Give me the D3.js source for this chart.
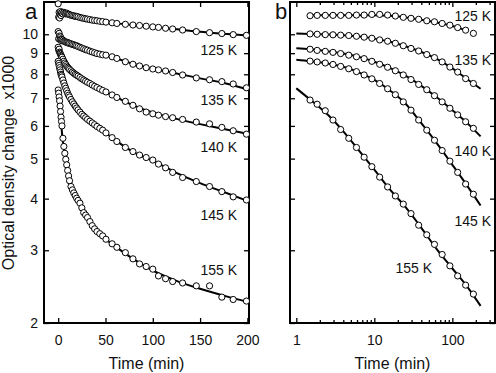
<!DOCTYPE html>
<html>
<head>
<meta charset="utf-8">
<script src="https://cdn.jsdelivr.net/npm/d3@7"></script>
<style>
  body { margin: 0; background: #fff; }
  svg text { font-family: "Liberation Sans", Arial, sans-serif; fill: #111; }
</style>
</head>
<body>
<svg id="chart" width="496" height="373"></svg>
<script>
// ---- panel a: linear time ----
const timeA = [0, 0.5, 1, 1.5, 2, 2.5, 3, 3.5, 4, 5, 6, 7, 8, 9, 10, 11, 12, 13.5, 15, 16.5, 18, 19.5, 21,
  23, 25, 27, 29, 31, 33.5, 36, 38.5, 41, 44, 47, 50.5, 57, 62, 71, 79, 86, 93, 100, 106, 113.5, 121, 131.5,
  146, 160, 173, 185, 199];
const a125 = [11.85, 11.0, 11.3, 10.95, 11.2, 11.35, 11.1, 11.25, 11.3, 11.2, 11.3, 11.25, 11.2, 11.25, 11.2, 11.18, 11.15,
  11.12, 11.1, 11.08, 11.05, 11.05, 11.02, 10.98, 10.95, 10.93, 10.9, 10.88, 10.85, 10.82, 10.8, 10.78, 10.75, 10.73,
  10.7, 10.66, 10.62, 10.57, 10.53, 10.5, 10.46, 10.42, 10.39, 10.34, 10.3, 10.24, 10.15, 10.09, 10.04, 9.98, 9.94];
const a135 = [10.15, 9.75, 10.05, 9.9, 9.7, 9.85, 9.75, 9.65, 9.72, 9.68, 9.62, 9.6, 9.58, 9.55, 9.55, 9.52, 9.5,
  9.48, 9.45, 9.43, 9.4, 9.38, 9.34, 9.3, 9.26, 9.22, 9.18, 9.15, 9.1, 9.06, 9.02, 8.98, 8.95, 8.92,
  8.9, 8.82, 8.74, 8.58, 8.46, 8.38, 8.3, 8.24, 8.2, 8.15, 8.08, 7.97, 7.84, 7.76, 7.68, 7.58, 7.42];
const a140 = [9.3, 9.15, 9.2, 9.05, 9.0, 8.95, 8.88, 8.85, 8.8, 8.7, 8.6, 8.52, 8.45, 8.38, 8.32, 8.27, 8.22,
  8.16, 8.1, 8.05, 8.0, 7.96, 7.92, 7.86, 7.8, 7.75, 7.7, 7.65, 7.6, 7.54, 7.48, 7.43, 7.37, 7.31,
  7.25, 7.13, 7.03, 6.88, 6.73, 6.6, 6.48, 6.42, 6.37, 6.32, 6.28, 6.22, 6.13, 6.07, 5.95, 5.84, 5.73];
const a145 = [8.6, 8.5, 8.4, 8.3, 8.2, 8.1, 8.0, 7.95, 7.88, 7.75, 7.62, 7.5, 7.4, 7.3, 7.2, 7.12, 7.05,
  6.95, 6.86, 6.78, 6.7, 6.63, 6.56, 6.48, 6.4, 6.34, 6.28, 6.22, 6.16, 6.1, 6.04, 5.98, 5.92, 5.86,
  5.77, 5.62, 5.5, 5.32, 5.2, 5.1, 5.03, 4.96, 4.85, 4.75, 4.63, 4.5, 4.4, 4.28, 4.16, 4.04, 3.97];
const a155 = [7.33, 7.2, 7.05, 6.9, 6.7, 6.5, 6.3, 6.15, 6.0, 5.6, 5.35, 5.15, 4.98, 4.83, 4.68, 4.54, 4.42,
  4.28, 4.2, 4.13, 4.07, 4.01, 3.96, 3.9, 3.8, 3.7, 3.65, 3.6, 3.52, 3.44, 3.38, 3.33, 3.29, 3.25,
  3.19, 3.11, 3.05, 2.96, 2.86, 2.78, 2.74, 2.7, 2.6, 2.56, 2.52, 2.5, 2.46, 2.46, 2.31, 2.28, 2.26];

// fitted curves, panel a
const fitTimeA = [0, 5, 10, 20, 30, 45, 60, 80, 100, 125, 150, 175, 200];
const fitA125 = [11.2, 11.2, 11.17, 11.05, 10.92, 10.76, 10.64, 10.52, 10.42, 10.28, 10.14, 10.03, 9.93];
const fitA135 = [9.9, 9.7, 9.56, 9.36, 9.17, 8.95, 8.76, 8.47, 8.25, 8.04, 7.82, 7.62, 7.36];
const fitA140 = [9.2, 8.72, 8.33, 7.95, 7.67, 7.35, 7.07, 6.72, 6.47, 6.24, 6.06, 5.9, 5.74];
const fitA145 = [8.6, 7.75, 7.2, 6.63, 6.25, 5.9, 5.55, 5.18, 4.94, 4.62, 4.36, 4.15, 3.95];
const fitA155 = [7.3, 5.5, 4.68, 4.0, 3.62, 3.27, 3.07, 2.85, 2.68, 2.53, 2.42, 2.33, 2.25];

// ---- panel b: log time ----
const timeB = [1.5, 1.85, 2.35, 2.95, 3.7, 4.7, 5.9, 7.4, 9.3, 11.7, 14.8, 18.6, 23.5, 29.5, 37, 47, 59, 74, 93, 117, 148, 186];
const b125 = [11.09, 11.11, 11.11, 11.11, 11.11, 11.11, 11.13, 11.13, 11.17, 11.17, 11.13, 11.07, 10.99, 10.93, 10.87,
  10.78, 10.72, 10.62, 10.52, 10.38, 10.23, 10.05];
const b135 = [10.02, 10.0, 9.98, 9.97, 9.95, 9.93, 9.89, 9.84, 9.78, 9.69, 9.62, 9.51, 9.38, 9.24, 9.11,
  8.93, 8.78, 8.57, 8.33, 8.1, 7.81, 7.6];
const b140 = [9.2, 9.14, 9.09, 9.04, 8.98, 8.9, 8.82, 8.73, 8.6, 8.46, 8.32, 8.16, 7.97, 7.77, 7.56,
  7.34, 7.1, 6.86, 6.62, 6.38, 6.14, 5.92];
const b145 = [8.61, 8.57, 8.52, 8.45, 8.36, 8.25, 8.12, 7.97, 7.8, 7.6, 7.38, 7.14, 6.86, 6.55, 6.2,
  5.86, 5.54, 5.23, 4.93, 4.63, 4.34, 4.1];
const b155 = [6.93, 6.77, 6.53, 6.2, 5.88, 5.6, 5.32, 5.04, 4.78, 4.51, 4.27, 4.06, 3.88, 3.68, 3.45,
  3.27, 3.1, 2.93, 2.75, 2.6, 2.47, 2.35];

// fitted curves, panel b
const fitTimeB = [1, 1.5, 2.5, 4, 6, 10, 16, 25, 40, 63, 100, 160, 230];
const fitB125 = [null, 11.12, 11.12, 11.12, 11.12, 11.12, 11.08, 10.98, 10.84, 10.68, 10.47, 10.18, null];
const fitB135 = [10.04, 10.02, 9.99, 9.95, 9.89, 9.76, 9.59, 9.35, 9.06, 8.72, 8.27, 7.75, 7.38];
const fitB140 = [9.25, 9.2, 9.1, 8.98, 8.84, 8.58, 8.28, 7.94, 7.5, 7.04, 6.55, 6.06, 5.66];
const fitB145 = [8.68, 8.61, 8.5, 8.34, 8.12, 7.75, 7.3, 6.8, 6.09, 5.45, 4.83, 4.26, 3.85];
const fitB155 = [7.4, 6.95, 6.4, 5.82, 5.3, 4.7, 4.2, 3.82, 3.4, 3.02, 2.71, 2.43, 2.2];

const tempLabels = ["125 K", "135 K", "140 K", "145 K", "155 K"];
const yTicks = [2, 3, 4, 5, 6, 7, 8, 9, 10];
const xTicksA = [0, 50, 100, 150, 200];
const xTicksB = [1, 2, 3, 4, 5, 6, 7, 8, 9, 10, 20, 30, 40, 50, 60, 70, 80, 90, 100, 200, 300];
const xMajorB = [1, 10, 100];

const svg = d3.select("#chart");
const FONT = "Liberation Sans, Arial, sans-serif";

const y = d3.scaleLog().domain([2, 11.97]).range([323, 2]);
const xa = d3.scaleLinear().domain([-15, 201.7]).range([44, 249]);
const xb = d3.scaleLog().domain([0.83, 352]).range([290, 495]);

function styleAxis(g) {
  g.select(".domain").remove();
  g.attr("font-family", FONT).attr("font-size", 14);
  g.selectAll(".tick line").attr("stroke", "#000").attr("stroke-width", 1.3);
  g.selectAll(".tick text").attr("fill", "#111");
}

function drawFrame(x) {
  const [x0, x1] = x.range();
  const [y1, y0] = y.range();

  // y ticks, left (labelled only in panel a) and right
  svg.append("g")
    .attr("transform", `translate(${x0},0)`)
    .call(d3.axisLeft(y).tickValues(yTicks).tickSize(-5).tickSizeOuter(0).tickPadding(6)
      .tickFormat(x === xa ? d3.format("d") : ""))
    .call(styleAxis);
  svg.append("g")
    .attr("transform", `translate(${x1},0)`)
    .call(d3.axisRight(y).tickValues(yTicks).tickSize(-5).tickSizeOuter(0).tickFormat(""))
    .call(styleAxis);

  const ticks = x === xa ? xTicksA : xTicksB;
  const fmt = x === xa ? d3.format("d") : (d => xMajorB.includes(d) ? d : "");

  const bottom = svg.append("g")
    .attr("transform", `translate(0,${y1})`)
    .call(d3.axisBottom(x).tickValues(ticks).tickSize(-5).tickSizeOuter(0).tickPadding(12).tickFormat(fmt))
    .call(styleAxis);
  const top = svg.append("g")
    .attr("transform", `translate(0,${y0})`)
    .call(d3.axisTop(x).tickValues(ticks).tickSize(-5).tickSizeOuter(0).tickFormat(""))
    .call(styleAxis);

  if (x === xb) {
    // minor log ticks are shorter
    bottom.selectAll(".tick").filter(d => !xMajorB.includes(d)).select("line").attr("y2", -3);
    top.selectAll(".tick").filter(d => !xMajorB.includes(d)).select("line").attr("y2", 3);
  }

  svg.append("rect")
    .attr("x", x0).attr("y", y0)
    .attr("width", x1 - x0).attr("height", y1 - y0)
    .attr("fill", "none").attr("stroke", "#000").attr("stroke-width", 2);

  svg.append("text")
    .attr("x", (x0 + x1) / 2).attr("y", 369)
    .attr("text-anchor", "middle")
    .attr("font-size", 16)
    .text("Time (min)");
}

function drawSeries(x, times, series, fitTimes, fits) {
  const line = d3.line()
    .defined(d => d[1] != null)
    .x(d => x(d[0]))
    .y(d => y(d[1]))
    .curve(d3.curveMonotoneX);

  fits.forEach(f => {
    svg.append("path")
      .datum(fitTimes.map((t, i) => [t, f[i]]))
      .attr("d", line)
      .attr("fill", "none")
      .attr("stroke", "#000")
      .attr("stroke-width", 2);
  });

  series.forEach(s => {
    svg.append("g")
      .selectAll("circle")
      .data(times.map((t, i) => [t, s[i]]))
      .join("circle")
      .attr("cx", d => x(d[0]))
      .attr("cy", d => y(d[1]))
      .attr("r", 3.1)
      .attr("fill", "#fff")
      .attr("stroke", "#000")
      .attr("stroke-width", 1);
  });
}

drawFrame(xa);
drawFrame(xb);

drawSeries(xa, timeA, [a125, a135, a140, a145, a155], fitTimeA, [fitA125, fitA135, fitA140, fitA145, fitA155]);
drawSeries(xb, timeB, [b125, b135, b140, b145, b155], fitTimeB, [fitB125, fitB135, fitB140, fitB145, fitB155]);

// temperature labels (anchored in data coordinates)
const labelPosA = [[189, 8.92], [189, 6.74], [189, 5.19], [189, 3.55], [189, 2.61]];
const labelPosB = [[313, 10.77], [313, 8.43], [313, 5.08], [313, 3.43], [55, 2.64]];

tempLabels.forEach((lab, i) => {
  svg.append("text")
    .attr("x", xa(labelPosA[i][0])).attr("y", y(labelPosA[i][1]))
    .attr("text-anchor", "end").attr("font-size", 14)
    .text(lab);
  svg.append("text")
    .attr("x", xb(labelPosB[i][0])).attr("y", y(labelPosB[i][1]))
    .attr("text-anchor", "end").attr("font-size", 14)
    .text(lab);
});

// y axis title
svg.append("text")
  .attr("transform", "translate(14,163) rotate(-90)")
  .attr("text-anchor", "middle")
  .attr("font-size", 16)
  .style("white-space", "pre")
  .text("Optical density change  x1000");

// panel letters
svg.append("text").attr("x", 25).attr("y", 19).attr("font-size", 22).text("a");
svg.append("text").attr("x", 275).attr("y", 19).attr("font-size", 22).text("b");
</script>
</body>
</html>
